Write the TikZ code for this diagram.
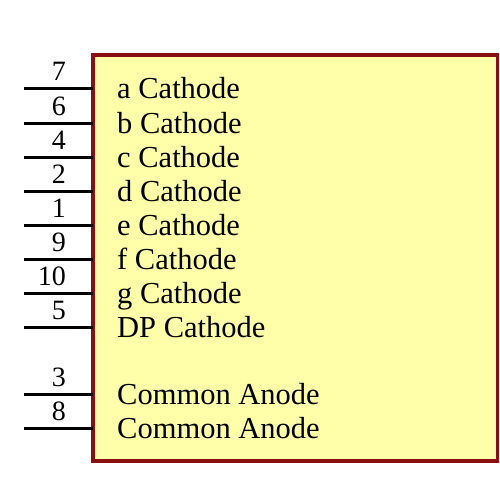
\documentclass[tikz,border=0pt]{standalone}
\usepackage{fontspec}
\setmainfont{Liberation Serif}
\definecolor{boxfill}{RGB}{255,255,170}
\definecolor{boxline}{RGB}{136,16,16}
\tikzset{
  pin/.style={line width=3pt},
  pinnum/.style={anchor=base east,inner sep=0pt,font=\fontsize{28}{28}\selectfont},
  pinname/.style={anchor=base west,inner sep=0pt,font=\fontsize{30.5}{30.5}\selectfont},
}
\begin{document}
\begin{tikzpicture}[x=1pt,y=-1pt]
    \useasboundingbox (0,0) rectangle (500,500);
    \draw[boxline,fill=boxfill,line width=3.5pt] (93,55) rectangle (497.5,461);
    %
    \coordinate (p7) at (24,89);  \coordinate (e7) at (93,89);  \draw[pin] (p7) -- (e7);
    \node[pinnum] (n7) at (66,81) {7};   \node[pinname] (ta) at (117,99) {a Cathode};
    \coordinate (p6) at (24,123); \coordinate (e6) at (93,123); \draw[pin] (p6) -- (e6);
    \node[pinnum] (n6) at (66,115) {6};  \node[pinname] (tb) at (117,133) {b Cathode};
    \coordinate (p4) at (24,157); \coordinate (e4) at (93,157); \draw[pin] (p4) -- (e4);
    \node[pinnum] (n4) at (66,149) {4};  \node[pinname] (tc) at (117,167) {c Cathode};
    \coordinate (p2) at (24,191); \coordinate (e2) at (93,191); \draw[pin] (p2) -- (e2);
    \node[pinnum] (n2) at (66,183) {2};  \node[pinname] (td) at (117,201) {d Cathode};
    \coordinate (p1) at (24,225); \coordinate (e1) at (93,225); \draw[pin] (p1) -- (e1);
    \node[pinnum] (n1) at (66,217) {1};  \node[pinname] (te) at (117,235) {e Cathode};
    \coordinate (p9) at (24,259); \coordinate (e9) at (93,259); \draw[pin] (p9) -- (e9);
    \node[pinnum] (n9) at (66,251) {9};  \node[pinname] (tf) at (117,269) {f Cathode};
    \coordinate (p10) at (24,293); \coordinate (e10) at (93,293); \draw[pin] (p10) -- (e10);
    \node[pinnum] (n10) at (66,285) {10}; \node[pinname] (tg) at (117,303) {g Cathode};
    \coordinate (p5) at (24,327); \coordinate (e5) at (93,327); \draw[pin] (p5) -- (e5);
    \node[pinnum] (n5) at (66,319) {5};  \node[pinname] (tdp) at (117,337) {DP Cathode};
    %
    \coordinate (p3) at (24,394); \coordinate (e3) at (93,394); \draw[pin] (p3) -- (e3);
    \node[pinnum] (n3) at (66,386) {3};  \node[pinname] (tca) at (117,404) {Common Anode};
    \coordinate (p8) at (24,428); \coordinate (e8) at (93,428); \draw[pin] (p8) -- (e8);
    \node[pinnum] (n8) at (66,420) {8};  \node[pinname] (tcb) at (117,438) {Common Anode};
\end{tikzpicture}
\end{document}
